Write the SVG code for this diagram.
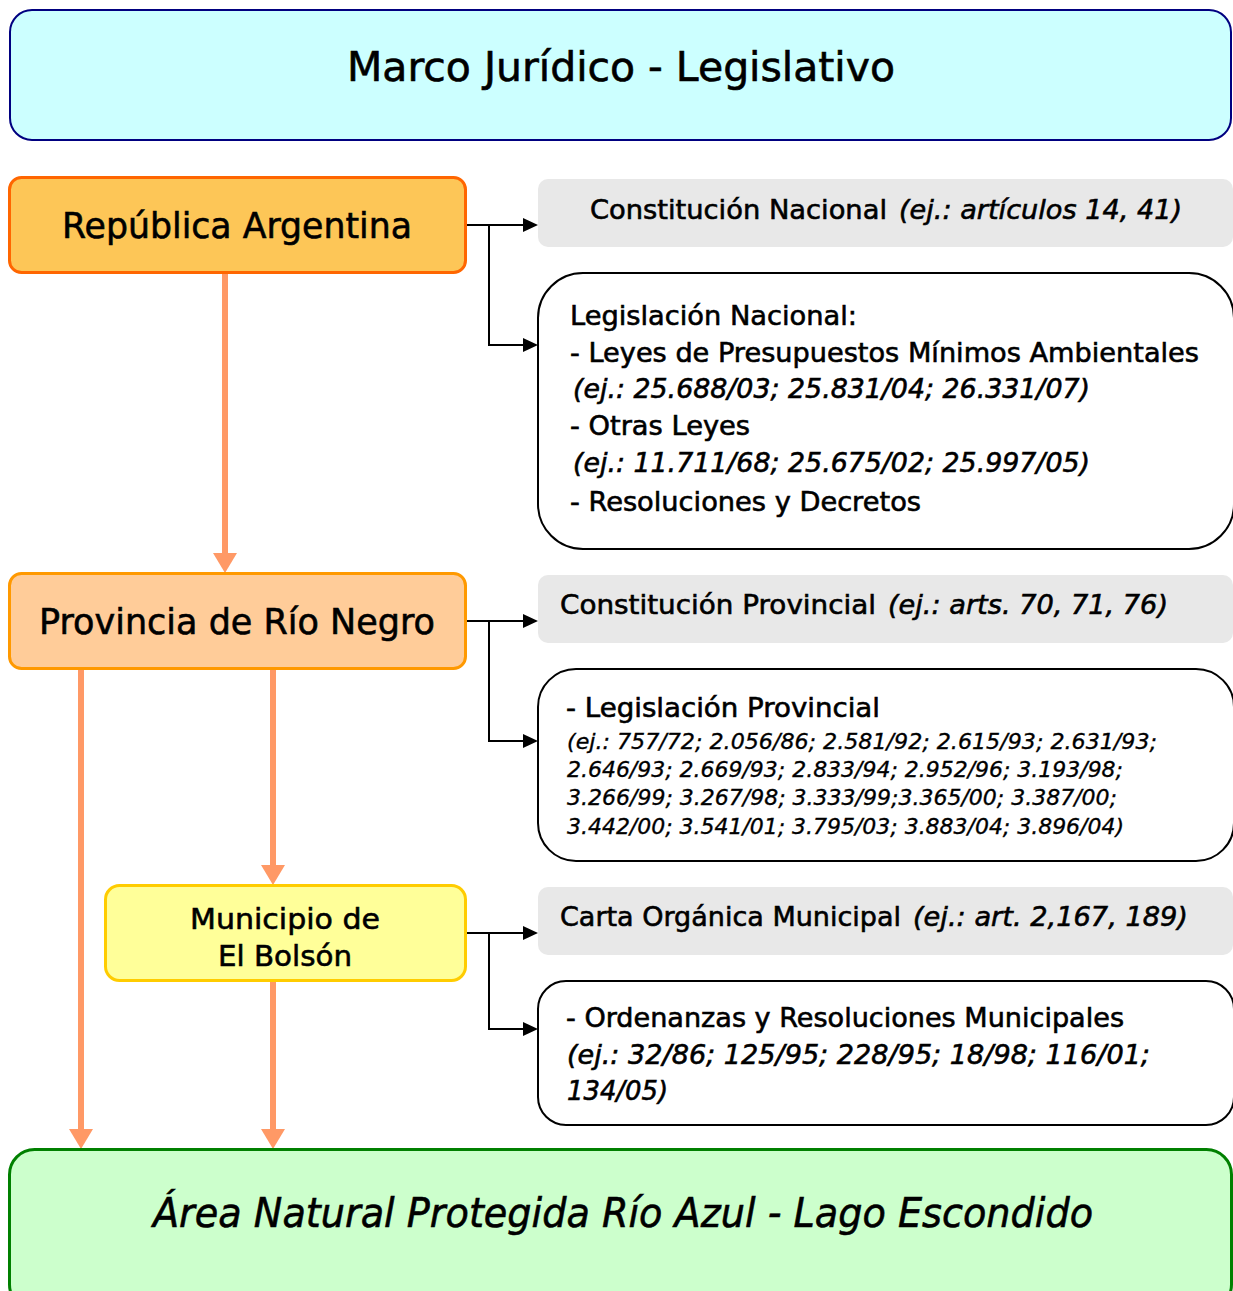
<svg xmlns="http://www.w3.org/2000/svg" width="1233" height="1291" viewBox="0 0 1233 1291">
<style>
text{font-family:"DejaVu Sans","Noto Sans",sans-serif;fill:#000;stroke:#000;stroke-width:0.6px;}
.it{font-style:italic;}
.big{font-size:36px;}
.mid{font-size:27px;}
.sm{font-size:22px;stroke-width:0.35px;}
.grey{fill:#E8E8E8;stroke:none;}
.white{fill:#FFFFFF;stroke:#000;stroke-width:2;}
.oarr{fill:none;stroke:#FF9966;stroke-width:6;}
.barr{fill:none;stroke:#000;stroke-width:2;}
</style>
<defs>
<marker id="ah-o" viewBox="0 0 20 24" refX="0" refY="12" markerWidth="20" markerHeight="24" markerUnits="userSpaceOnUse" orient="auto">
<path d="M0,0 L20,12 L0,24 z" fill="#FF9966"/>
</marker>
<marker id="ah-b" viewBox="0 0 15 14" refX="0" refY="7" markerWidth="15" markerHeight="14" markerUnits="userSpaceOnUse" orient="auto">
<path d="M0,0 L15,7 L0,14 z" fill="#000"/>
</marker>
</defs>

<g id="connectors">
<path class="oarr" d="M225,273 V553" marker-end="url(#ah-o)"/>
<path class="oarr" d="M81,669 V1129" marker-end="url(#ah-o)"/>
<path class="oarr" d="M273,669 V865" marker-end="url(#ah-o)"/>
<path class="oarr" d="M273,981 V1129" marker-end="url(#ah-o)"/>
<path class="barr" d="M466,225 H523" marker-end="url(#ah-b)"/>
<path class="barr" d="M489,225 V345 H523" marker-end="url(#ah-b)"/>
<path class="barr" d="M466,621 H523" marker-end="url(#ah-b)"/>
<path class="barr" d="M489,621 V741 H523" marker-end="url(#ah-b)"/>
<path class="barr" d="M466,933 H523" marker-end="url(#ah-b)"/>
<path class="barr" d="M489,933 V1029 H523" marker-end="url(#ah-b)"/>
</g>

<g id="title">
<rect x="10" y="10" width="1221" height="130" rx="22" fill="#CCFFFF" stroke="#000080" stroke-width="2"/>
<text x="347" y="81" font-size="40" textLength="548" lengthAdjust="spacingAndGlyphs">Marco Jurídico - Legislativo</text>
</g>

<g id="republica">
<rect x="9.5" y="177.5" width="456" height="95" rx="12" fill="#FDC657" stroke="#FF6600" stroke-width="3"/>
<text class="big" x="62" y="238" textLength="350" lengthAdjust="spacingAndGlyphs">República Argentina</text>
</g>

<g id="const-nacional">
<rect class="grey" x="538" y="179" width="695" height="68" rx="10"/>
<text class="mid" x="590" y="219" textLength="297" lengthAdjust="spacingAndGlyphs">Constitución Nacional</text>
<text class="mid it" x="899" y="219" textLength="283" lengthAdjust="spacingAndGlyphs">(ej.: artículos 14, 41)</text>
</g>

<g id="leg-nacional">
<rect class="white" x="538" y="273" width="696" height="276" rx="45"/>
<text class="mid" x="570" y="325" textLength="287" lengthAdjust="spacingAndGlyphs">Legislación Nacional:</text>
<text class="mid" x="570" y="362" textLength="629" lengthAdjust="spacingAndGlyphs">- Leyes de Presupuestos Mínimos Ambientales</text>
<text class="mid it" x="573" y="398" textLength="517" lengthAdjust="spacingAndGlyphs">(ej.: 25.688/03; 25.831/04; 26.331/07)</text>
<text class="mid" x="570" y="435" textLength="180" lengthAdjust="spacingAndGlyphs">- Otras Leyes</text>
<text class="mid it" x="573" y="472" textLength="517" lengthAdjust="spacingAndGlyphs">(ej.: 11.711/68; 25.675/02; 25.997/05)</text>
<text class="mid" x="570" y="511" textLength="351" lengthAdjust="spacingAndGlyphs">- Resoluciones y Decretos</text>
</g>

<g id="provincia">
<rect x="9.5" y="573.5" width="456" height="95" rx="12" fill="#FFCC99" stroke="#FF9900" stroke-width="3"/>
<text class="big" x="39" y="634" textLength="396" lengthAdjust="spacingAndGlyphs">Provincia de Río Negro</text>
</g>

<g id="const-provincial">
<rect class="grey" x="538" y="575" width="695" height="68" rx="10"/>
<text class="mid" x="560" y="614" textLength="316" lengthAdjust="spacingAndGlyphs">Constitución Provincial</text>
<text class="mid it" x="888" y="614" textLength="280" lengthAdjust="spacingAndGlyphs">(ej.: arts. 70, 71, 76)</text>
</g>

<g id="leg-provincial">
<rect class="white" x="538" y="669" width="696" height="192" rx="38"/>
<text class="mid" x="566" y="717" textLength="314" lengthAdjust="spacingAndGlyphs">- Legislación Provincial</text>
<text class="sm it" x="567" y="749" textLength="590" lengthAdjust="spacingAndGlyphs">(ej.: 757/72; 2.056/86; 2.581/92; 2.615/93; 2.631/93;</text>
<text class="sm it" x="567" y="777" textLength="556" lengthAdjust="spacingAndGlyphs">2.646/93; 2.669/93; 2.833/94; 2.952/96; 3.193/98;</text>
<text class="sm it" x="567" y="805" textLength="550" lengthAdjust="spacingAndGlyphs">3.266/99; 3.267/98; 3.333/99;3.365/00; 3.387/00;</text>
<text class="sm it" x="567" y="834" textLength="557" lengthAdjust="spacingAndGlyphs">3.442/00; 3.541/01; 3.795/03; 3.883/04; 3.896/04)</text>
</g>

<g id="municipio">
<rect x="105.5" y="885.5" width="360" height="95" rx="14" fill="#FFFF99" stroke="#FFCC00" stroke-width="3"/>
<text x="190" y="929" font-size="29" textLength="190" lengthAdjust="spacingAndGlyphs">Municipio de</text>
<text x="218" y="966" font-size="29" textLength="134" lengthAdjust="spacingAndGlyphs">El Bolsón</text>
</g>

<g id="carta-organica">
<rect class="grey" x="538" y="887" width="695" height="68" rx="10"/>
<text class="mid" x="560" y="926" textLength="341" lengthAdjust="spacingAndGlyphs">Carta Orgánica Municipal</text>
<text class="mid it" x="913" y="926" textLength="275" lengthAdjust="spacingAndGlyphs">(ej.: art. 2,167, 189)</text>
</g>

<g id="ordenanzas">
<rect class="white" x="538" y="981" width="696" height="144" rx="28"/>
<text class="mid" x="566" y="1027" textLength="558" lengthAdjust="spacingAndGlyphs">- Ordenanzas y Resoluciones Municipales</text>
<text class="mid it" x="567" y="1064" textLength="583" lengthAdjust="spacingAndGlyphs">(ej.: 32/86; 125/95; 228/95; 18/98; 116/01;</text>
<text class="mid it" x="567" y="1100" textLength="101" lengthAdjust="spacingAndGlyphs">134/05)</text>
</g>

<g id="area-protegida">
<rect x="9.5" y="1149.5" width="1222" height="160" rx="25" fill="#CCFFCC" stroke="#008000" stroke-width="3"/>
<text class="it" x="153" y="1227" font-size="40" textLength="940" lengthAdjust="spacingAndGlyphs">Área Natural Protegida Río Azul - Lago Escondido</text>
</g>
</svg>
